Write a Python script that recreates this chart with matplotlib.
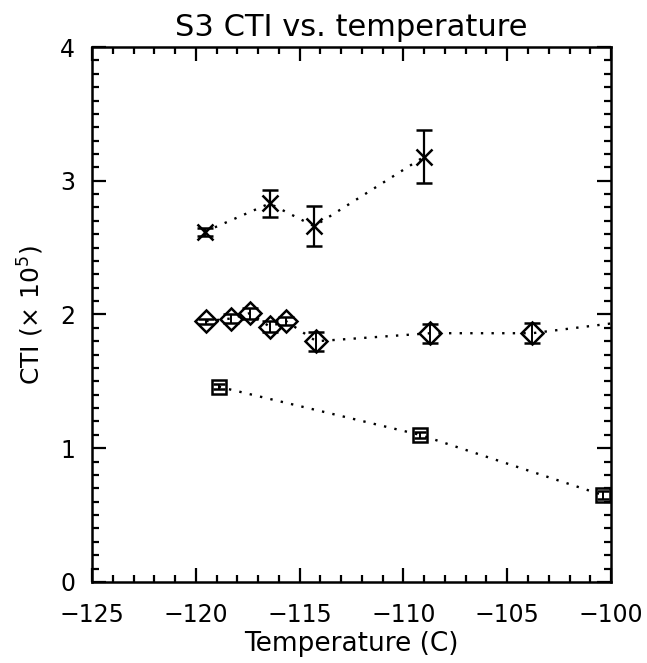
import numpy as np
import matplotlib
matplotlib.use("Agg")
import matplotlib.pyplot as plt
from matplotlib.ticker import MultipleLocator

# CTI values (x 1e5) vs focal plane temperature
temp_x = [-119.55, -116.45, -114.3, -109.0]
cti_x = [2.62, 2.83, 2.66, 3.18]
err_x = [0.03, 0.10, 0.15, 0.20]

temp_d = [-119.5, -118.3, -117.4, -116.45, -115.65, -114.2, -108.7, -103.8, -97.0]
cti_d = [1.95, 1.97, 2.01, 1.91, 1.95, 1.80, 1.86, 1.86, 1.99]
err_d = [0.02, 0.03, 0.04, 0.04, 0.03, 0.07, 0.07, 0.075, 0.07]

temp_s = [-118.9, -109.2, -100.4]
cti_s = [1.46, 1.10, 0.65]
err_s = [0.02, 0.02, 0.03]

plt.rcParams['font.family'] = ['DejaVu Sans']
fig = plt.figure(figsize=(6.47, 6.63), dpi=100)
ax = fig.add_axes([0.1422, 0.1222, 0.8022, 0.8069])

dots = (0, (1, 3.5))
ax.errorbar(temp_x, cti_x, yerr=err_x, color='black', marker='x', ms=11, mew=1.8,
            ls=dots, lw=1.7, elinewidth=1.6, capsize=5.5, capthick=1.6)
ax.errorbar(temp_d, cti_d, yerr=err_d, color='black', marker='D', ms=11, mew=1.8,
            mfc='none', ls=dots, lw=1.7, elinewidth=1.4, capsize=5.5, capthick=1.6)
ax.errorbar(temp_s, cti_s, yerr=err_s, color='black', marker='s', ms=10.5, mew=1.8,
            mfc='none', ls=dots, lw=1.7, elinewidth=1.4, capsize=4, capthick=1.4)

ax.set_xlim(-125, -100)
ax.set_ylim(0, 4)
ax.xaxis.set_major_locator(MultipleLocator(5))
ax.xaxis.set_minor_locator(MultipleLocator(1))
ax.yaxis.set_major_locator(MultipleLocator(1))
ax.yaxis.set_minor_locator(MultipleLocator(0.1))
ax.tick_params(which='both', direction='in', top=True, right=True, width=1.6,
               labelsize=17)
ax.tick_params(axis='x', pad=15)
ax.tick_params(axis='y', pad=12)
ax.tick_params(which='major', length=10)
ax.tick_params(which='minor', length=5)
for s in ax.spines.values():
    s.set_linewidth(1.8)

ax.set_title('S3 CTI vs. temperature', fontsize=22, pad=8)
ax.set_xlabel('Temperature (C)', fontsize=19, labelpad=3)
ax.set_ylabel('CTI ($\\times$ 10$^5$)', fontsize=18, labelpad=10)

fig.savefig('out.png', dpi=100)
